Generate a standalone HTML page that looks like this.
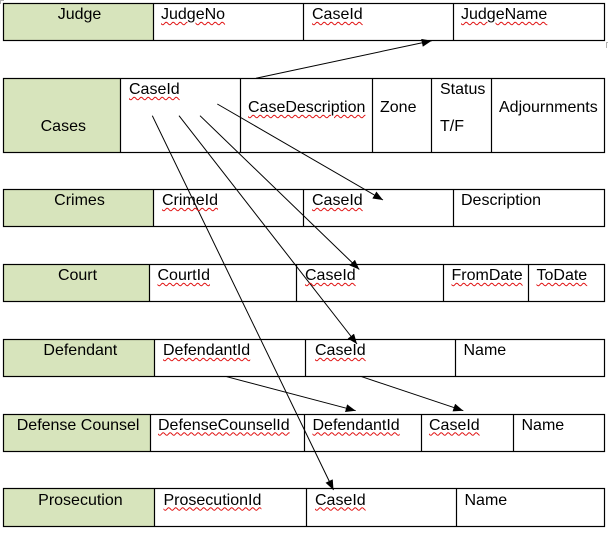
<!DOCTYPE html>
<html>
<head>
<meta charset="utf-8">
<style>
  html,body{margin:0;padding:0;background:#fff;}
  body{width:608px;height:533px;position:relative;overflow:hidden;
       font-family:"Liberation Sans",Arial,sans-serif;font-size:16px;color:#000;}
  svg{position:absolute;left:0;top:0;}
  .t{position:absolute;line-height:18px;white-space:nowrap;}
  .c{width:200px;text-align:center;}
  .w{text-decoration:underline wavy #e01010;text-decoration-thickness:1px;text-underline-offset:2px;}
</style>
</head>
<body>
<svg width="608" height="533" viewBox="0 0 608 533">
  <defs>
    <marker id="ah" markerUnits="userSpaceOnUse" markerWidth="11" markerHeight="9" refX="10" refY="4" orient="auto">
      <path d="M0,0 L10,4 L0,8 z" fill="#000"/>
    </marker>
  </defs>
  <g fill="#d7e4bc" stroke="none">
    <rect x="3.5" y="3.5" width="150" height="37"/>
    <rect x="3.5" y="78.5" width="117" height="74"/>
    <rect x="3.5" y="189.5" width="150" height="37"/>
    <rect x="3.5" y="264.5" width="146" height="37"/>
    <rect x="3.5" y="339.5" width="151" height="37"/>
    <rect x="3.5" y="414.5" width="147" height="37"/>
    <rect x="3.5" y="488.5" width="151" height="38"/>
  </g>
  <g fill="none" stroke="#000" stroke-width="1.2">
    <!-- Judge -->
    <rect x="3.5" y="3.5" width="601" height="37"/>
    <path d="M153.5 3.5V40.5M303.5 3.5V40.5M453.5 3.5V40.5"/>
    <!-- Cases -->
    <rect x="3.5" y="78.5" width="601" height="74"/>
    <path d="M120.5 78.5V152.5M240.5 78.5V152.5M372.5 78.5V152.5M431.5 78.5V152.5M491.5 78.5V152.5"/>
    <!-- Crimes -->
    <rect x="3.5" y="189.5" width="601" height="37"/>
    <path d="M153.5 189.5V226.5M303.5 189.5V226.5M453.5 189.5V226.5"/>
    <!-- Court -->
    <rect x="3.5" y="264.5" width="601" height="37"/>
    <path d="M149.5 264.5V301.5M296.5 264.5V301.5M443.5 264.5V301.5M528.5 264.5V301.5"/>
    <!-- Defendant -->
    <rect x="3.5" y="339.5" width="601" height="37"/>
    <path d="M154.5 339.5V376.5M305.5 339.5V376.5M455.5 339.5V376.5"/>
    <!-- Defense Counsel -->
    <rect x="3.5" y="414.5" width="601" height="37"/>
    <path d="M150.5 414.5V451.5M304.5 414.5V451.5M421.5 414.5V451.5M513.5 414.5V451.5"/>
    <!-- Prosecution -->
    <rect x="3.5" y="488.5" width="601" height="38"/>
    <path d="M154.5 488.5V526.5M306.5 488.5V526.5M456.5 488.5V526.5"/>
  </g>
  <!-- small gray corner marks -->
  <g fill="none" stroke="#b0b0b0" stroke-width="1">
    <path d="M0.5 4V0.5H4"/>
    <path d="M606.5 48V42.5H608"/>
  </g>
  <!-- connectors -->
  <g stroke="#000" stroke-width="1" fill="none" marker-end="url(#ah)">
    <line x1="256" y1="78.3" x2="431.7" y2="40.7"/>
    <line x1="217.3" y1="104" x2="383" y2="200"/>
    <line x1="200" y1="115.7" x2="359.3" y2="269.5"/>
    <line x1="179" y1="115.7" x2="357" y2="344"/>
    <line x1="152.3" y1="115.7" x2="333.5" y2="490"/>
    <line x1="226.7" y1="376.7" x2="355.7" y2="410.7"/>
    <line x1="361.7" y1="376.7" x2="463.3" y2="410.7"/>
  </g>
</svg>

<!-- Judge (baseline 20.5) -->
<div class="t c" style="left:-20.5px;top:6px;">Judge</div>
<div class="t w" style="left:161px;top:6px;">JudgeNo</div>
<div class="t w" style="left:312px;top:6px;">CaseId</div>
<div class="t w" style="left:461px;top:6px;">JudgeName</div>

<!-- Cases -->
<div class="t c" style="left:-36.7px;top:117.5px;">Cases</div>
<div class="t w" style="left:129px;top:81px;">CaseId</div>
<div class="t w" style="left:248px;top:99px;">CaseDescription</div>
<div class="t" style="left:380px;top:99px;">Zone</div>
<div class="t" style="left:440px;top:81px;">Status</div>
<div class="t" style="left:440px;top:118px;">T/F</div>
<div class="t" style="left:499px;top:99px;">Adjournments</div>

<!-- Crimes (baseline 206.7) -->
<div class="t c" style="left:-20.5px;top:192px;">Crimes</div>
<div class="t w" style="left:162px;top:192px;">CrimeId</div>
<div class="t w" style="left:312px;top:192px;">CaseId</div>
<div class="t" style="left:461px;top:192px;">Description</div>

<!-- Court (baseline 281.7) -->
<div class="t c" style="left:-22.5px;top:267px;">Court</div>
<div class="t w" style="left:157.5px;top:267px;">CourtId</div>
<div class="t w" style="left:305px;top:267px;">CaseId</div>
<div class="t w" style="left:451.5px;top:267px;">FromDate</div>
<div class="t w" style="left:536.5px;top:267px;">ToDate</div>

<!-- Defendant (baseline 356.7) -->
<div class="t c" style="left:-19.7px;top:342px;">Defendant</div>
<div class="t w" style="left:163px;top:342px;">DefendantId</div>
<div class="t w" style="left:315px;top:342px;">CaseId</div>
<div class="t" style="left:463.5px;top:342px;">Name</div>

<!-- Defense Counsel (baseline 431) -->
<div class="t c" style="left:-21.9px;top:416.5px;">Defense Counsel</div>
<div class="t w" style="left:158px;top:416.5px;">DefenseCounselId</div>
<div class="t w" style="left:312.5px;top:416.5px;">DefendantId</div>
<div class="t w" style="left:429px;top:416.5px;">CaseId</div>
<div class="t" style="left:521.5px;top:416.5px;">Name</div>

<!-- Prosecution (baseline 506) -->
<div class="t c" style="left:-19.6px;top:491.5px;">Prosecution</div>
<div class="t w" style="left:163.5px;top:491.5px;">ProsecutionId</div>
<div class="t w" style="left:315px;top:491.5px;">CaseId</div>
<div class="t" style="left:464.5px;top:491.5px;">Name</div>
</body>
</html>
